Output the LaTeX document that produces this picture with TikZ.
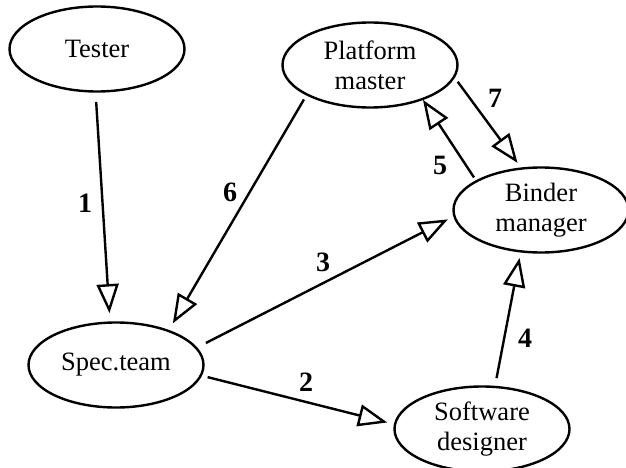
\documentclass[tikz,border=0pt]{standalone}
\usepackage{fontspec}
\setmainfont{Liberation Serif}
\usetikzlibrary{shapes.geometric,arrows.meta}
\begin{document}
\begin{tikzpicture}[x=1pt,y=-1pt,
  actor/.style={ellipse,draw,line width=2.4pt,minimum width=175pt,minimum height=85pt,
    inner sep=0pt,outer sep=0pt,align=center,font=\fontsize{26.5}{30}\selectfont},
  flow/.style={line width=2.4pt,-{Triangle[open,length=29pt,width=22pt]}},
  num/.style={font=\fontsize{28}{30}\selectfont\bfseries,inner sep=0pt}]
\useasboundingbox (0,0) rectangle (626,468);
\node[actor] (tester)   at (97,49)   {Tester};
\node[actor] (platform) at (370,65)  {Platform\\master};
\node[actor] (binder)   at (541,210) {Binder\\manager};
\node[actor] (spec)     at (116,365) {Spec.team};
\node[actor] (software) at (482,429) {Software\\designer};

\draw[flow,shorten <=10.5pt,shorten >=9.5pt] (tester.-92.2) -- (spec.98.6);
\draw[flow,shorten <=7pt,shorten >=8pt] (spec.-7.65) -- (software.177.4);
\draw[flow,shorten <=11pt,shorten >=7.3pt] (spec.12.85) -- (binder.184.4);
\draw[flow,shorten <=9pt,shorten >=6.7pt] (software.73.8) -- (binder.244.6);
\draw[flow,shorten <=4.6pt,shorten >=1pt] (binder.156.8) -- (platform.-33);
\draw[flow,shorten <=5.8pt,shorten >=8.8pt] (platform.205.8) -- (spec.33.8);
\draw[flow,shorten <=6.2pt,shorten >=7pt] (platform.-8.9) -- (binder.115.6);

\node[num] (n1) at (85,203)  {1};
\node[num] (n2) at (306,382) {2};
\node[num] (n3) at (323,262) {3};
\node[num] (n4) at (525,338) {4};
\node[num] (n5) at (440,165) {5};
\node[num] (n6) at (230,192) {6};
\node[num] (n7) at (495,98)  {7};
\end{tikzpicture}
\end{document}
